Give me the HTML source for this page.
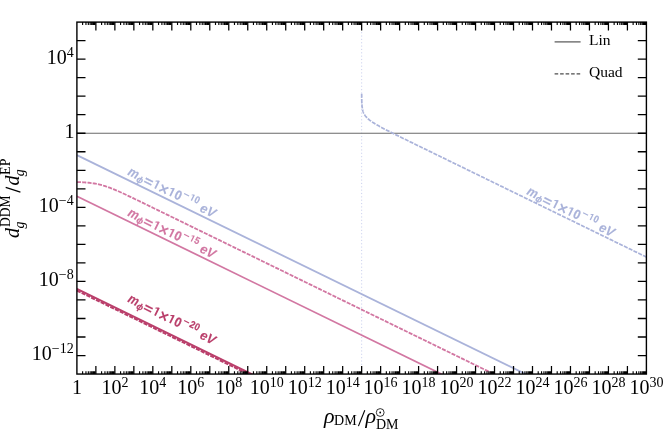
<!DOCTYPE html>
<html><head><meta charset="utf-8"><title>plot</title>
<style>html,body{margin:0;padding:0;background:#fff;}svg{display:block;will-change:transform;}text{font-family:"Liberation Serif",serif;fill:#000;}.s{font-family:"Liberation Sans",sans-serif;font-weight:bold;font-style:italic;}</style></head><body>
<svg width="664" height="431" viewBox="0 0 664 431">
<rect width="664" height="431" fill="#fff"/>
<defs><clipPath id="c"><rect x="76.9" y="22.1" width="569.5" height="351.95"/></clipPath></defs>
<line x1="361.65" y1="22.1" x2="361.65" y2="374.05" stroke="#bcc4ea" stroke-width="0.8" stroke-dasharray="1.1 2.25"/>
<line x1="76.9" y1="133.24" x2="646.4" y2="133.24" stroke="#6a6a6a" stroke-width="1.2"/>
<g clip-path="url(#c)" fill="none">
<line x1="76.90" y1="155.16" x2="646.40" y2="433.01" stroke="#aab3da" stroke-width="1.8"/>
<path d="M76.90 182.06 L77.99 182.09 L79.08 182.13 L80.17 182.17 L81.27 182.22 L82.36 182.27 L83.45 182.33 L84.54 182.40 L85.63 182.48 L86.72 182.56 L87.82 182.66 L88.91 182.77 L90.00 182.89 L91.09 183.02 L92.18 183.16 L93.27 183.32 L94.36 183.50 L95.46 183.69 L96.55 183.89 L97.64 184.12 L98.73 184.36 L99.82 184.61 L100.91 184.89 L102.01 185.18 L103.10 185.50 L104.19 185.82 L105.28 186.17 L106.37 186.53 L107.46 186.90 L108.55 187.29 L109.65 187.70 L110.74 188.11 L111.83 188.54 L112.92 188.98 L114.01 189.42 L115.10 189.88 L116.20 190.34 L117.29 190.82 L118.38 191.30 L119.47 191.78 L120.56 192.27 L121.65 192.77 L122.74 193.27 L123.84 193.77 L124.93 194.28 L126.02 194.79 L127.11 195.30 L128.20 195.81 L129.29 196.33 L130.39 196.85 L131.48 197.37 L132.57 197.89 L133.66 198.42 L134.75 198.94 L135.84 199.47 L136.93 199.99 L138.03 200.52 L139.12 201.05 L140.21 201.58 L141.30 202.11 L142.39 202.63 L143.48 203.16 L144.58 203.69 L145.67 204.23 L146.76 204.76 L147.85 205.29 L148.94 205.82 L150.03 206.35 L151.12 206.88 L152.22 207.41 L153.31 207.94 L154.40 208.48 L155.49 209.01 L156.58 209.54 L157.67 210.07 L158.77 210.60 L159.86 211.14 L160.95 211.67 L162.04 212.20 L163.13 212.73 L164.22 213.26 L165.31 213.80 L166.41 214.33 L167.50 214.86 L168.59 215.39 L169.68 215.93 L170.77 216.46 L171.86 216.99 L172.96 217.52 L174.05 218.06 L175.14 218.59 L176.23 219.12 L177.32 219.65 L178.41 220.19 L179.50 220.72 L180.60 221.25 L181.69 221.78 L182.78 222.32 L183.87 222.85 L184.96 223.38 L186.05 223.91 L187.15 224.45 L188.24 224.98 L189.33 225.51 L190.42 226.04 L191.51 226.58 L192.60 227.11 L193.69 227.64 L194.79 228.17 L195.88 228.71 L196.97 229.24 L198.06 229.77 L199.15 230.31 L200.24 230.84 L201.34 231.37 L202.43 231.90 L203.52 232.44 L204.61 232.97 L205.70 233.50 L206.79 234.03 L207.89 234.57 L208.98 235.10 L210.07 235.63 L211.16 236.16 L212.25 236.70 L213.34 237.23 L214.43 237.76 L215.53 238.29 L216.62 238.83 L217.71 239.36 L218.80 239.89 L219.89 240.42 L220.98 240.96 L222.08 241.49 L223.17 242.02 L224.26 242.55 L225.35 243.09 L226.44 243.62 L227.53 244.15 L228.62 244.68 L229.72 245.22 L230.81 245.75 L231.90 246.28 L232.99 246.81 L234.08 247.35 L235.17 247.88 L236.27 248.41 L237.36 248.94 L238.45 249.48 L239.54 250.01 L240.63 250.54 L241.72 251.07 L242.81 251.61 L243.91 252.14 L245.00 252.67 L246.09 253.21 L247.18 253.74 L248.27 254.27 L249.36 254.80 L250.46 255.34 L251.55 255.87 L252.64 256.40 L253.73 256.93 L254.82 257.47 L255.91 258.00 L257.00 258.53 L258.10 259.06 L259.19 259.60 L260.28 260.13 L261.37 260.66 L262.46 261.19 L263.55 261.73 L264.65 262.26 L265.74 262.79 L266.83 263.32 L267.92 263.86 L269.01 264.39 L270.10 264.92 L271.19 265.45 L272.29 265.99 L273.38 266.52 L274.47 267.05 L275.56 267.58 L276.65 268.12 L277.74 268.65 L278.84 269.18 L279.93 269.71 L281.02 270.25 L282.11 270.78 L283.20 271.31 L284.29 271.84 L285.38 272.38 L286.48 272.91 L287.57 273.44 L288.66 273.97 L289.75 274.51 L290.84 275.04 L291.93 275.57 L293.03 276.10 L294.12 276.64 L295.21 277.17 L296.30 277.70 L297.39 278.24 L298.48 278.77 L299.57 279.30 L300.67 279.83 L301.76 280.37 L302.85 280.90 L303.94 281.43 L305.03 281.96 L306.12 282.50 L307.22 283.03 L308.31 283.56 L309.40 284.09 L310.49 284.63 L311.58 285.16 L312.67 285.69 L313.76 286.22 L314.86 286.76 L315.95 287.29 L317.04 287.82 L318.13 288.35 L319.22 288.89 L320.31 289.42 L321.41 289.95 L322.50 290.48 L323.59 291.02 L324.68 291.55 L325.77 292.08 L326.86 292.61 L327.95 293.15 L329.05 293.68 L330.14 294.21 L331.23 294.74 L332.32 295.28 L333.41 295.81 L334.50 296.34 L335.60 296.87 L336.69 297.41 L337.78 297.94 L338.87 298.47 L339.96 299.00 L341.05 299.54 L342.14 300.07 L343.24 300.60 L344.33 301.14 L345.42 301.67 L346.51 302.20 L347.60 302.73 L348.69 303.27 L349.79 303.80 L350.88 304.33 L351.97 304.86 L353.06 305.40 L354.15 305.93 L355.24 306.46 L356.33 306.99 L357.43 307.53 L358.52 308.06 L359.61 308.59 L360.70 309.12 L361.79 309.66 L362.88 310.19 L363.98 310.72 L365.07 311.25 L366.16 311.79 L367.25 312.32 L368.34 312.85 L369.43 313.38 L370.52 313.92 L371.62 314.45 L372.71 314.98 L373.80 315.51 L374.89 316.05 L375.98 316.58 L377.07 317.11 L378.17 317.64 L379.26 318.18 L380.35 318.71 L381.44 319.24 L382.53 319.77 L383.62 320.31 L384.71 320.84 L385.81 321.37 L386.90 321.90 L387.99 322.44 L389.08 322.97 L390.17 323.50 L391.26 324.03 L392.36 324.57 L393.45 325.10 L394.54 325.63 L395.63 326.17 L396.72 326.70 L397.81 327.23 L398.90 327.76 L400.00 328.30 L401.09 328.83 L402.18 329.36 L403.27 329.89 L404.36 330.43 L405.45 330.96 L406.55 331.49 L407.64 332.02 L408.73 332.56 L409.82 333.09 L410.91 333.62 L412.00 334.15 L413.09 334.69 L414.19 335.22 L415.28 335.75 L416.37 336.28 L417.46 336.82 L418.55 337.35 L419.64 337.88 L420.74 338.41 L421.83 338.95 L422.92 339.48 L424.01 340.01 L425.10 340.54 L426.19 341.08 L427.28 341.61 L428.38 342.14 L429.47 342.67 L430.56 343.21 L431.65 343.74 L432.74 344.27 L433.83 344.80 L434.93 345.34 L436.02 345.87 L437.11 346.40 L438.20 346.93 L439.29 347.47 L440.38 348.00 L441.47 348.53 L442.57 349.07 L443.66 349.60 L444.75 350.13 L445.84 350.66 L446.93 351.20 L448.02 351.73 L449.12 352.26 L450.21 352.79 L451.30 353.33 L452.39 353.86 L453.48 354.39 L454.57 354.92 L455.66 355.46 L456.76 355.99 L457.85 356.52 L458.94 357.05 L460.03 357.59 L461.12 358.12 L462.21 358.65 L463.31 359.18 L464.40 359.72 L465.49 360.25 L466.58 360.78 L467.67 361.31 L468.76 361.85 L469.86 362.38 L470.95 362.91 L472.04 363.44 L473.13 363.98 L474.22 364.51 L475.31 365.04 L476.40 365.57 L477.50 366.11 L478.59 366.64 L479.68 367.17 L480.77 367.70 L481.86 368.24 L482.95 368.77 L484.05 369.30 L485.14 369.83 L486.23 370.37 L487.32 370.90 L488.41 371.43 L489.50 371.96 L490.59 372.50 L491.69 373.03 L492.78 373.56 L493.87 374.10 L494.96 374.63 L496.05 375.16 L497.14 375.69 L498.24 376.23 L499.33 376.76 L500.42 377.29 L501.51 377.82 L502.60 378.36 L503.69 378.89 L504.78 379.42 L505.88 379.95 L506.97 380.49 L508.06 381.02 L509.15 381.55 L510.24 382.08 L511.33 382.62 L512.43 383.15 L513.52 383.68" stroke="#d277a2" stroke-width="1.8" stroke-dasharray="4.1 1.2"/>
<line x1="76.90" y1="196.22" x2="646.40" y2="474.08" stroke="#d277a2" stroke-width="1.75"/>
<line x1="76.90" y1="290.51" x2="304.70" y2="401.65" stroke="#ba3f6b" stroke-width="2.0" stroke-dasharray="4.1 1.2"/>
<line x1="76.90" y1="288.84" x2="304.70" y2="399.98" stroke="#ba3f6b" stroke-width="2.0"/>
<path d="M361.67 93.79 L361.67 94.16 L361.67 94.53 L361.68 94.90 L361.68 95.27 L361.68 95.64 L361.68 96.01 L361.69 96.38 L361.69 96.75 L361.69 97.12 L361.70 97.49 L361.70 97.86 L361.71 98.23 L361.71 98.60 L361.72 98.97 L361.73 99.34 L361.73 99.71 L361.74 100.08 L361.75 100.46 L361.76 100.83 L361.77 101.20 L361.78 101.57 L361.80 101.94 L361.81 102.31 L361.82 102.68 L361.84 103.05 L361.86 103.42 L361.88 103.79 L361.90 104.16 L361.92 104.53 L361.95 104.90 L361.98 105.27 L362.01 105.64 L362.04 106.01 L362.08 106.38 L362.12 106.75 L362.17 107.12 L362.21 107.49 L362.27 107.86 L362.32 108.24 L362.39 108.61 L362.45 108.98 L362.53 109.35 L362.61 109.72 L362.69 110.09 L362.79 110.46 L362.89 110.83 L363.00 111.20 L363.12 111.57 L363.25 111.94 L363.39 112.31 L363.54 112.68 L363.70 113.05 L363.87 113.42 L364.06 113.79 L364.25 114.16 L364.47 114.53 L364.69 114.90 L364.94 115.27 L365.19 115.64 L365.47 116.02 L365.76 116.39 L366.71 117.47 L367.66 118.42 L368.60 119.28 L369.55 120.06 L370.50 120.78 L371.45 121.47 L372.40 122.12 L373.35 122.74 L374.30 123.34 L375.25 123.92 L376.20 124.49 L377.15 125.04 L378.10 125.58 L379.05 126.11 L379.99 126.64 L380.94 127.15 L381.89 127.66 L382.84 128.16 L383.79 128.66 L384.74 129.16 L385.69 129.65 L386.64 130.14 L387.59 130.62 L388.54 131.11 L389.49 131.59 L390.44 132.06 L391.38 132.54 L392.33 133.02 L393.28 133.49 L394.23 133.96 L395.18 134.44 L396.13 134.91 L397.08 135.38 L398.03 135.85 L398.98 136.31 L399.93 136.78 L400.88 137.25 L401.83 137.72 L402.77 138.18 L403.72 138.65 L404.67 139.11 L405.62 139.58 L406.57 140.04 L407.52 140.51 L408.47 140.97 L409.42 141.44 L410.37 141.90 L411.32 142.37 L412.27 142.83 L413.22 143.30 L414.16 143.76 L415.11 144.22 L416.06 144.69 L417.01 145.15 L417.96 145.61 L418.91 146.08 L419.86 146.54 L420.81 147.01 L421.76 147.47 L422.71 147.93 L423.66 148.40 L424.61 148.86 L425.55 149.32 L426.50 149.79 L427.45 150.25 L428.40 150.71 L429.35 151.18 L430.30 151.64 L431.25 152.10 L432.20 152.56 L433.15 153.03 L434.10 153.49 L435.05 153.95 L436.00 154.42 L436.94 154.88 L437.89 155.34 L438.84 155.81 L439.79 156.27 L440.74 156.73 L441.69 157.20 L442.64 157.66 L443.59 158.12 L444.54 158.59 L445.49 159.05 L446.44 159.51 L447.39 159.97 L448.33 160.44 L449.28 160.90 L450.23 161.36 L451.18 161.83 L452.13 162.29 L453.08 162.75 L454.03 163.22 L454.98 163.68 L455.93 164.14 L456.88 164.61 L457.83 165.07 L458.78 165.53 L459.72 166.00 L460.67 166.46 L461.62 166.92 L462.57 167.38 L463.52 167.85 L464.47 168.31 L465.42 168.77 L466.37 169.24 L467.32 169.70 L468.27 170.16 L469.22 170.63 L470.17 171.09 L471.11 171.55 L472.06 172.02 L473.01 172.48 L473.96 172.94 L474.91 173.40 L475.86 173.87 L476.81 174.33 L477.76 174.79 L478.71 175.26 L479.66 175.72 L480.61 176.18 L481.56 176.65 L482.50 177.11 L483.45 177.57 L484.40 178.04 L485.35 178.50 L486.30 178.96 L487.25 179.42 L488.20 179.89 L489.15 180.35 L490.10 180.81 L491.05 181.28 L492.00 181.74 L492.95 182.20 L493.89 182.67 L494.84 183.13 L495.79 183.59 L496.74 184.06 L497.69 184.52 L498.64 184.98 L499.59 185.44 L500.54 185.91 L501.49 186.37 L502.44 186.83 L503.39 187.30 L504.34 187.76 L505.28 188.22 L506.23 188.69 L507.18 189.15 L508.13 189.61 L509.08 190.08 L510.03 190.54 L510.98 191.00 L511.93 191.47 L512.88 191.93 L513.83 192.39 L514.78 192.85 L515.73 193.32 L516.67 193.78 L517.62 194.24 L518.57 194.71 L519.52 195.17 L520.47 195.63 L521.42 196.10 L522.37 196.56 L523.32 197.02 L524.27 197.49 L525.22 197.95 L526.17 198.41 L527.12 198.87 L528.06 199.34 L529.01 199.80 L529.96 200.26 L530.91 200.73 L531.86 201.19 L532.81 201.65 L533.76 202.12 L534.71 202.58 L535.66 203.04 L536.61 203.51 L537.56 203.97 L538.51 204.43 L539.45 204.89 L540.40 205.36 L541.35 205.82 L542.30 206.28 L543.25 206.75 L544.20 207.21 L545.15 207.67 L546.10 208.14 L547.05 208.60 L548.00 209.06 L548.95 209.53 L549.90 209.99 L550.84 210.45 L551.79 210.92 L552.74 211.38 L553.69 211.84 L554.64 212.30 L555.59 212.77 L556.54 213.23 L557.49 213.69 L558.44 214.16 L559.39 214.62 L560.34 215.08 L561.29 215.55 L562.23 216.01 L563.18 216.47 L564.13 216.94 L565.08 217.40 L566.03 217.86 L566.98 218.32 L567.93 218.79 L568.88 219.25 L569.83 219.71 L570.78 220.18 L571.73 220.64 L572.68 221.10 L573.62 221.57 L574.57 222.03 L575.52 222.49 L576.47 222.96 L577.42 223.42 L578.37 223.88 L579.32 224.34 L580.27 224.81 L581.22 225.27 L582.17 225.73 L583.12 226.20 L584.07 226.66 L585.01 227.12 L585.96 227.59 L586.91 228.05 L587.86 228.51 L588.81 228.98 L589.76 229.44 L590.71 229.90 L591.66 230.36 L592.61 230.83 L593.56 231.29 L594.51 231.75 L595.46 232.22 L596.40 232.68 L597.35 233.14 L598.30 233.61 L599.25 234.07 L600.20 234.53 L601.15 235.00 L602.10 235.46 L603.05 235.92 L604.00 236.39 L604.95 236.85 L605.90 237.31 L606.85 237.77 L607.79 238.24 L608.74 238.70 L609.69 239.16 L610.64 239.63 L611.59 240.09 L612.54 240.55 L613.49 241.02 L614.44 241.48 L615.39 241.94 L616.34 242.41 L617.29 242.87 L618.24 243.33 L619.18 243.79 L620.13 244.26 L621.08 244.72 L622.03 245.18 L622.98 245.65 L623.93 246.11 L624.88 246.57 L625.83 247.04 L626.78 247.50 L627.73 247.96 L628.68 248.43 L629.63 248.89 L630.57 249.35 L631.52 249.81 L632.47 250.28 L633.42 250.74 L634.37 251.20 L635.32 251.67 L636.27 252.13 L637.22 252.59 L638.17 253.06 L639.12 253.52 L640.07 253.98 L641.02 254.45 L641.96 254.91 L642.91 255.37 L643.86 255.83 L644.81 256.30 L645.76 256.76 L646.71 257.22" stroke="#aab3da" stroke-width="1.7" stroke-dasharray="4.1 1.2"/>
</g>
<g transform="translate(127.00,174.60) rotate(26.57)" font-size="13.3">
<text class="s" transform="translate(0.00,0) scale(0.9,1)" style="fill:#aab3da;stroke:#aab3da;stroke-width:0.12">m</text>
<text class="s" transform="translate(10.80,2.0) scale(0.9,1)" style="fill:#aab3da;stroke:#aab3da;stroke-width:0.15" font-size="9.4" font-weight="normal">ϕ</text>
<text class="s" transform="translate(17.80,1.1) scale(1.18,1)" style="font-style:normal;fill:#aab3da;stroke:#aab3da;stroke-width:0.1">=</text>
<path d="M32.28 0.00 L32.28 -8.90 L30.98 -8.90 L28.38 -7.60 L28.38 -6.40 L30.48 -7.15 L30.48 0.00 Z" fill="#aab3da"/>
<text class="s" transform="translate(34.64,2.0) scale(1.0,1)" style="font-style:normal;fill:#aab3da;stroke:#aab3da;stroke-width:0" font-size="16.5" font-weight="normal">×</text>
<path d="M49.06 0.00 L49.06 -8.90 L47.76 -8.90 L45.16 -7.60 L45.16 -6.40 L47.26 -7.15 L47.26 0.00 Z" fill="#aab3da"/>
<text class="s" transform="translate(51.68,0) scale(0.9,1)" style="font-style:normal;fill:#aab3da;stroke:#aab3da;stroke-width:0.22">0</text>
<text class="s" transform="translate(59.14,-5.5) scale(1.1,1)" style="font-style:normal;fill:#aab3da;stroke:#aab3da;stroke-width:0" font-size="10.0">−</text>
<path d="M69.84 -5.50 L69.84 -12.18 L68.87 -12.18 L66.92 -11.20 L66.92 -10.30 L68.50 -10.86 L68.50 -5.50 Z" fill="#aab3da"/>
<text class="s" transform="translate(71.63,-5.5) scale(0.9,1)" style="font-style:normal;fill:#aab3da;stroke:#aab3da;stroke-width:0.2" font-size="10.0">0</text>
<text class="s" transform="translate(80.70,0.3) scale(0.96,1)" style="fill:#aab3da;stroke:#aab3da;stroke-width:0.1">eV</text>
</g>
<g transform="translate(126.90,215.50) rotate(26.57)" font-size="13.3">
<text class="s" transform="translate(0.00,0) scale(0.9,1)" style="fill:#d277a2;stroke:#d277a2;stroke-width:0.12">m</text>
<text class="s" transform="translate(10.80,2.0) scale(0.9,1)" style="fill:#d277a2;stroke:#d277a2;stroke-width:0.15" font-size="9.4" font-weight="normal">ϕ</text>
<text class="s" transform="translate(17.80,1.1) scale(1.18,1)" style="font-style:normal;fill:#d277a2;stroke:#d277a2;stroke-width:0.1">=</text>
<path d="M32.28 0.00 L32.28 -8.90 L30.98 -8.90 L28.38 -7.60 L28.38 -6.40 L30.48 -7.15 L30.48 0.00 Z" fill="#d277a2"/>
<text class="s" transform="translate(34.64,2.0) scale(1.0,1)" style="font-style:normal;fill:#d277a2;stroke:#d277a2;stroke-width:0" font-size="16.5" font-weight="normal">×</text>
<path d="M49.06 0.00 L49.06 -8.90 L47.76 -8.90 L45.16 -7.60 L45.16 -6.40 L47.26 -7.15 L47.26 0.00 Z" fill="#d277a2"/>
<text class="s" transform="translate(51.68,0) scale(0.9,1)" style="font-style:normal;fill:#d277a2;stroke:#d277a2;stroke-width:0.22">0</text>
<text class="s" transform="translate(59.14,-5.5) scale(1.1,1)" style="font-style:normal;fill:#d277a2;stroke:#d277a2;stroke-width:0" font-size="10.0">−</text>
<path d="M69.84 -5.50 L69.84 -12.18 L68.87 -12.18 L66.92 -11.20 L66.92 -10.30 L68.50 -10.86 L68.50 -5.50 Z" fill="#d277a2"/>
<text class="s" transform="translate(71.63,-5.5) scale(0.9,1)" style="font-style:normal;fill:#d277a2;stroke:#d277a2;stroke-width:0.2" font-size="10.0">5</text>
<text class="s" transform="translate(80.70,0.3) scale(0.96,1)" style="fill:#d277a2;stroke:#d277a2;stroke-width:0.1">eV</text>
</g>
<g transform="translate(126.90,301.60) rotate(26.57)" font-size="13.3">
<text class="s" transform="translate(0.00,0) scale(0.9,1)" style="fill:#ba3f6b;stroke:#ba3f6b;stroke-width:0.12">m</text>
<text class="s" transform="translate(10.80,2.0) scale(0.9,1)" style="fill:#ba3f6b;stroke:#ba3f6b;stroke-width:0.15" font-size="9.4" font-weight="normal">ϕ</text>
<text class="s" transform="translate(17.80,1.1) scale(1.18,1)" style="font-style:normal;fill:#ba3f6b;stroke:#ba3f6b;stroke-width:0.1">=</text>
<path d="M32.28 0.00 L32.28 -8.90 L30.98 -8.90 L28.38 -7.60 L28.38 -6.40 L30.48 -7.15 L30.48 0.00 Z" fill="#ba3f6b"/>
<text class="s" transform="translate(34.64,2.0) scale(1.0,1)" style="font-style:normal;fill:#ba3f6b;stroke:#ba3f6b;stroke-width:0" font-size="16.5" font-weight="normal">×</text>
<path d="M49.06 0.00 L49.06 -8.90 L47.76 -8.90 L45.16 -7.60 L45.16 -6.40 L47.26 -7.15 L47.26 0.00 Z" fill="#ba3f6b"/>
<text class="s" transform="translate(51.68,0) scale(0.9,1)" style="font-style:normal;fill:#ba3f6b;stroke:#ba3f6b;stroke-width:0.22">0</text>
<text class="s" transform="translate(59.14,-5.5) scale(1.1,1)" style="font-style:normal;fill:#ba3f6b;stroke:#ba3f6b;stroke-width:0" font-size="10.0">−</text>
<text class="s" transform="translate(66.42,-5.5) scale(0.9,1)" style="font-style:normal;fill:#ba3f6b;stroke:#ba3f6b;stroke-width:0.2" font-size="10.0">2</text>
<text class="s" transform="translate(71.63,-5.5) scale(0.9,1)" style="font-style:normal;fill:#ba3f6b;stroke:#ba3f6b;stroke-width:0.2" font-size="10.0">0</text>
<text class="s" transform="translate(80.70,0.3) scale(0.96,1)" style="fill:#ba3f6b;stroke:#ba3f6b;stroke-width:0.1">eV</text>
</g>
<g transform="translate(525.90,194.00) rotate(26.57)" font-size="13.3">
<text class="s" transform="translate(0.00,0) scale(0.9,1)" style="fill:#aab3da;stroke:#aab3da;stroke-width:0.12">m</text>
<text class="s" transform="translate(10.80,2.0) scale(0.9,1)" style="fill:#aab3da;stroke:#aab3da;stroke-width:0.15" font-size="9.4" font-weight="normal">ϕ</text>
<text class="s" transform="translate(17.80,1.1) scale(1.18,1)" style="font-style:normal;fill:#aab3da;stroke:#aab3da;stroke-width:0.1">=</text>
<path d="M32.28 0.00 L32.28 -8.90 L30.98 -8.90 L28.38 -7.60 L28.38 -6.40 L30.48 -7.15 L30.48 0.00 Z" fill="#aab3da"/>
<text class="s" transform="translate(34.64,2.0) scale(1.0,1)" style="font-style:normal;fill:#aab3da;stroke:#aab3da;stroke-width:0" font-size="16.5" font-weight="normal">×</text>
<path d="M49.06 0.00 L49.06 -8.90 L47.76 -8.90 L45.16 -7.60 L45.16 -6.40 L47.26 -7.15 L47.26 0.00 Z" fill="#aab3da"/>
<text class="s" transform="translate(51.68,0) scale(0.9,1)" style="font-style:normal;fill:#aab3da;stroke:#aab3da;stroke-width:0.22">0</text>
<text class="s" transform="translate(59.14,-5.5) scale(1.1,1)" style="font-style:normal;fill:#aab3da;stroke:#aab3da;stroke-width:0" font-size="10.0">−</text>
<path d="M69.84 -5.50 L69.84 -12.18 L68.87 -12.18 L66.92 -11.20 L66.92 -10.30 L68.50 -10.86 L68.50 -5.50 Z" fill="#aab3da"/>
<text class="s" transform="translate(71.63,-5.5) scale(0.9,1)" style="font-style:normal;fill:#aab3da;stroke:#aab3da;stroke-width:0.2" font-size="10.0">0</text>
<text class="s" transform="translate(80.70,0.3) scale(0.96,1)" style="fill:#aab3da;stroke:#aab3da;stroke-width:0.1">eV</text>
</g>
<rect x="76.9" y="22.1" width="569.50" height="351.95" fill="none" stroke="#000" stroke-width="1.4"/>
<path d="M95.88 374.05 v-8 M95.88 22.1 v8.5 M114.87 374.05 v-8 M114.87 22.1 v8.5 M133.85 374.05 v-8 M133.85 22.1 v8.5 M152.83 374.05 v-8 M152.83 22.1 v8.5 M171.82 374.05 v-8 M171.82 22.1 v8.5 M190.80 374.05 v-8 M190.80 22.1 v8.5 M209.78 374.05 v-8 M209.78 22.1 v8.5 M228.77 374.05 v-8 M228.77 22.1 v8.5 M247.75 374.05 v-8 M247.75 22.1 v8.5 M266.73 374.05 v-8 M266.73 22.1 v8.5 M285.72 374.05 v-8 M285.72 22.1 v8.5 M304.70 374.05 v-8 M304.70 22.1 v8.5 M323.68 374.05 v-8 M323.68 22.1 v8.5 M342.67 374.05 v-8 M342.67 22.1 v8.5 M361.65 374.05 v-8 M361.65 22.1 v8.5 M380.63 374.05 v-8 M380.63 22.1 v8.5 M399.62 374.05 v-8 M399.62 22.1 v8.5 M418.60 374.05 v-8 M418.60 22.1 v8.5 M437.58 374.05 v-8 M437.58 22.1 v8.5 M456.57 374.05 v-8 M456.57 22.1 v8.5 M475.55 374.05 v-8 M475.55 22.1 v8.5 M494.53 374.05 v-8 M494.53 22.1 v8.5 M513.52 374.05 v-8 M513.52 22.1 v8.5 M532.50 374.05 v-8 M532.50 22.1 v8.5 M551.48 374.05 v-8 M551.48 22.1 v8.5 M570.47 374.05 v-8 M570.47 22.1 v8.5 M589.45 374.05 v-8 M589.45 22.1 v8.5 M608.43 374.05 v-8 M608.43 22.1 v8.5 M627.42 374.05 v-8 M627.42 22.1 v8.5" stroke="#000" stroke-width="1.25" fill="none"/>
<path d="M82.61 374.05 v-2.7 M82.61 22.1 v2.8 M85.96 374.05 v-2.7 M85.96 22.1 v2.8 M88.33 374.05 v-2.7 M88.33 22.1 v2.8 M90.17 374.05 v-2.7 M90.17 22.1 v2.8 M91.67 374.05 v-2.7 M91.67 22.1 v2.8 M92.94 374.05 v-2.7 M92.94 22.1 v2.8 M94.04 374.05 v-2.7 M94.04 22.1 v2.8 M95.01 374.05 v-2.7 M95.01 22.1 v2.8 M101.60 374.05 v-2.7 M101.60 22.1 v2.8 M104.94 374.05 v-2.7 M104.94 22.1 v2.8 M107.31 374.05 v-2.7 M107.31 22.1 v2.8 M109.15 374.05 v-2.7 M109.15 22.1 v2.8 M110.66 374.05 v-2.7 M110.66 22.1 v2.8 M111.93 374.05 v-2.7 M111.93 22.1 v2.8 M113.03 374.05 v-2.7 M113.03 22.1 v2.8 M114.00 374.05 v-2.7 M114.00 22.1 v2.8 M120.58 374.05 v-2.7 M120.58 22.1 v2.8 M123.92 374.05 v-2.7 M123.92 22.1 v2.8 M126.30 374.05 v-2.7 M126.30 22.1 v2.8 M128.14 374.05 v-2.7 M128.14 22.1 v2.8 M129.64 374.05 v-2.7 M129.64 22.1 v2.8 M130.91 374.05 v-2.7 M130.91 22.1 v2.8 M132.01 374.05 v-2.7 M132.01 22.1 v2.8 M132.98 374.05 v-2.7 M132.98 22.1 v2.8 M139.56 374.05 v-2.7 M139.56 22.1 v2.8 M142.91 374.05 v-2.7 M142.91 22.1 v2.8 M145.28 374.05 v-2.7 M145.28 22.1 v2.8 M147.12 374.05 v-2.7 M147.12 22.1 v2.8 M148.62 374.05 v-2.7 M148.62 22.1 v2.8 M149.89 374.05 v-2.7 M149.89 22.1 v2.8 M150.99 374.05 v-2.7 M150.99 22.1 v2.8 M151.96 374.05 v-2.7 M151.96 22.1 v2.8 M158.55 374.05 v-2.7 M158.55 22.1 v2.8 M161.89 374.05 v-2.7 M161.89 22.1 v2.8 M164.26 374.05 v-2.7 M164.26 22.1 v2.8 M166.10 374.05 v-2.7 M166.10 22.1 v2.8 M167.61 374.05 v-2.7 M167.61 22.1 v2.8 M168.88 374.05 v-2.7 M168.88 22.1 v2.8 M169.98 374.05 v-2.7 M169.98 22.1 v2.8 M170.95 374.05 v-2.7 M170.95 22.1 v2.8 M177.53 374.05 v-2.7 M177.53 22.1 v2.8 M180.87 374.05 v-2.7 M180.87 22.1 v2.8 M183.25 374.05 v-2.7 M183.25 22.1 v2.8 M185.09 374.05 v-2.7 M185.09 22.1 v2.8 M186.59 374.05 v-2.7 M186.59 22.1 v2.8 M187.86 374.05 v-2.7 M187.86 22.1 v2.8 M188.96 374.05 v-2.7 M188.96 22.1 v2.8 M189.93 374.05 v-2.7 M189.93 22.1 v2.8 M196.51 374.05 v-2.7 M196.51 22.1 v2.8 M199.86 374.05 v-2.7 M199.86 22.1 v2.8 M202.23 374.05 v-2.7 M202.23 22.1 v2.8 M204.07 374.05 v-2.7 M204.07 22.1 v2.8 M205.57 374.05 v-2.7 M205.57 22.1 v2.8 M206.84 374.05 v-2.7 M206.84 22.1 v2.8 M207.94 374.05 v-2.7 M207.94 22.1 v2.8 M208.91 374.05 v-2.7 M208.91 22.1 v2.8 M215.50 374.05 v-2.7 M215.50 22.1 v2.8 M218.84 374.05 v-2.7 M218.84 22.1 v2.8 M221.21 374.05 v-2.7 M221.21 22.1 v2.8 M223.05 374.05 v-2.7 M223.05 22.1 v2.8 M224.56 374.05 v-2.7 M224.56 22.1 v2.8 M225.83 374.05 v-2.7 M225.83 22.1 v2.8 M226.93 374.05 v-2.7 M226.93 22.1 v2.8 M227.90 374.05 v-2.7 M227.90 22.1 v2.8 M234.48 374.05 v-2.7 M234.48 22.1 v2.8 M237.82 374.05 v-2.7 M237.82 22.1 v2.8 M240.20 374.05 v-2.7 M240.20 22.1 v2.8 M242.04 374.05 v-2.7 M242.04 22.1 v2.8 M243.54 374.05 v-2.7 M243.54 22.1 v2.8 M244.81 374.05 v-2.7 M244.81 22.1 v2.8 M245.91 374.05 v-2.7 M245.91 22.1 v2.8 M246.88 374.05 v-2.7 M246.88 22.1 v2.8 M253.46 374.05 v-2.7 M253.46 22.1 v2.8 M256.81 374.05 v-2.7 M256.81 22.1 v2.8 M259.18 374.05 v-2.7 M259.18 22.1 v2.8 M261.02 374.05 v-2.7 M261.02 22.1 v2.8 M262.52 374.05 v-2.7 M262.52 22.1 v2.8 M263.79 374.05 v-2.7 M263.79 22.1 v2.8 M264.89 374.05 v-2.7 M264.89 22.1 v2.8 M265.86 374.05 v-2.7 M265.86 22.1 v2.8 M272.45 374.05 v-2.7 M272.45 22.1 v2.8 M275.79 374.05 v-2.7 M275.79 22.1 v2.8 M278.16 374.05 v-2.7 M278.16 22.1 v2.8 M280.00 374.05 v-2.7 M280.00 22.1 v2.8 M281.51 374.05 v-2.7 M281.51 22.1 v2.8 M282.78 374.05 v-2.7 M282.78 22.1 v2.8 M283.88 374.05 v-2.7 M283.88 22.1 v2.8 M284.85 374.05 v-2.7 M284.85 22.1 v2.8 M291.43 374.05 v-2.7 M291.43 22.1 v2.8 M294.77 374.05 v-2.7 M294.77 22.1 v2.8 M297.15 374.05 v-2.7 M297.15 22.1 v2.8 M298.99 374.05 v-2.7 M298.99 22.1 v2.8 M300.49 374.05 v-2.7 M300.49 22.1 v2.8 M301.76 374.05 v-2.7 M301.76 22.1 v2.8 M302.86 374.05 v-2.7 M302.86 22.1 v2.8 M303.83 374.05 v-2.7 M303.83 22.1 v2.8 M310.41 374.05 v-2.7 M310.41 22.1 v2.8 M313.76 374.05 v-2.7 M313.76 22.1 v2.8 M316.13 374.05 v-2.7 M316.13 22.1 v2.8 M317.97 374.05 v-2.7 M317.97 22.1 v2.8 M319.47 374.05 v-2.7 M319.47 22.1 v2.8 M320.74 374.05 v-2.7 M320.74 22.1 v2.8 M321.84 374.05 v-2.7 M321.84 22.1 v2.8 M322.81 374.05 v-2.7 M322.81 22.1 v2.8 M329.40 374.05 v-2.7 M329.40 22.1 v2.8 M332.74 374.05 v-2.7 M332.74 22.1 v2.8 M335.11 374.05 v-2.7 M335.11 22.1 v2.8 M336.95 374.05 v-2.7 M336.95 22.1 v2.8 M338.46 374.05 v-2.7 M338.46 22.1 v2.8 M339.73 374.05 v-2.7 M339.73 22.1 v2.8 M340.83 374.05 v-2.7 M340.83 22.1 v2.8 M341.80 374.05 v-2.7 M341.80 22.1 v2.8 M348.38 374.05 v-2.7 M348.38 22.1 v2.8 M351.72 374.05 v-2.7 M351.72 22.1 v2.8 M354.10 374.05 v-2.7 M354.10 22.1 v2.8 M355.94 374.05 v-2.7 M355.94 22.1 v2.8 M357.44 374.05 v-2.7 M357.44 22.1 v2.8 M358.71 374.05 v-2.7 M358.71 22.1 v2.8 M359.81 374.05 v-2.7 M359.81 22.1 v2.8 M360.78 374.05 v-2.7 M360.78 22.1 v2.8 M367.36 374.05 v-2.7 M367.36 22.1 v2.8 M370.71 374.05 v-2.7 M370.71 22.1 v2.8 M373.08 374.05 v-2.7 M373.08 22.1 v2.8 M374.92 374.05 v-2.7 M374.92 22.1 v2.8 M376.42 374.05 v-2.7 M376.42 22.1 v2.8 M377.69 374.05 v-2.7 M377.69 22.1 v2.8 M378.79 374.05 v-2.7 M378.79 22.1 v2.8 M379.76 374.05 v-2.7 M379.76 22.1 v2.8 M386.35 374.05 v-2.7 M386.35 22.1 v2.8 M389.69 374.05 v-2.7 M389.69 22.1 v2.8 M392.06 374.05 v-2.7 M392.06 22.1 v2.8 M393.90 374.05 v-2.7 M393.90 22.1 v2.8 M395.41 374.05 v-2.7 M395.41 22.1 v2.8 M396.68 374.05 v-2.7 M396.68 22.1 v2.8 M397.78 374.05 v-2.7 M397.78 22.1 v2.8 M398.75 374.05 v-2.7 M398.75 22.1 v2.8 M405.33 374.05 v-2.7 M405.33 22.1 v2.8 M408.67 374.05 v-2.7 M408.67 22.1 v2.8 M411.05 374.05 v-2.7 M411.05 22.1 v2.8 M412.89 374.05 v-2.7 M412.89 22.1 v2.8 M414.39 374.05 v-2.7 M414.39 22.1 v2.8 M415.66 374.05 v-2.7 M415.66 22.1 v2.8 M416.76 374.05 v-2.7 M416.76 22.1 v2.8 M417.73 374.05 v-2.7 M417.73 22.1 v2.8 M424.31 374.05 v-2.7 M424.31 22.1 v2.8 M427.66 374.05 v-2.7 M427.66 22.1 v2.8 M430.03 374.05 v-2.7 M430.03 22.1 v2.8 M431.87 374.05 v-2.7 M431.87 22.1 v2.8 M433.37 374.05 v-2.7 M433.37 22.1 v2.8 M434.64 374.05 v-2.7 M434.64 22.1 v2.8 M435.74 374.05 v-2.7 M435.74 22.1 v2.8 M436.71 374.05 v-2.7 M436.71 22.1 v2.8 M443.30 374.05 v-2.7 M443.30 22.1 v2.8 M446.64 374.05 v-2.7 M446.64 22.1 v2.8 M449.01 374.05 v-2.7 M449.01 22.1 v2.8 M450.85 374.05 v-2.7 M450.85 22.1 v2.8 M452.36 374.05 v-2.7 M452.36 22.1 v2.8 M453.63 374.05 v-2.7 M453.63 22.1 v2.8 M454.73 374.05 v-2.7 M454.73 22.1 v2.8 M455.70 374.05 v-2.7 M455.70 22.1 v2.8 M462.28 374.05 v-2.7 M462.28 22.1 v2.8 M465.62 374.05 v-2.7 M465.62 22.1 v2.8 M468.00 374.05 v-2.7 M468.00 22.1 v2.8 M469.84 374.05 v-2.7 M469.84 22.1 v2.8 M471.34 374.05 v-2.7 M471.34 22.1 v2.8 M472.61 374.05 v-2.7 M472.61 22.1 v2.8 M473.71 374.05 v-2.7 M473.71 22.1 v2.8 M474.68 374.05 v-2.7 M474.68 22.1 v2.8 M481.26 374.05 v-2.7 M481.26 22.1 v2.8 M484.61 374.05 v-2.7 M484.61 22.1 v2.8 M486.98 374.05 v-2.7 M486.98 22.1 v2.8 M488.82 374.05 v-2.7 M488.82 22.1 v2.8 M490.32 374.05 v-2.7 M490.32 22.1 v2.8 M491.59 374.05 v-2.7 M491.59 22.1 v2.8 M492.69 374.05 v-2.7 M492.69 22.1 v2.8 M493.66 374.05 v-2.7 M493.66 22.1 v2.8 M500.25 374.05 v-2.7 M500.25 22.1 v2.8 M503.59 374.05 v-2.7 M503.59 22.1 v2.8 M505.96 374.05 v-2.7 M505.96 22.1 v2.8 M507.80 374.05 v-2.7 M507.80 22.1 v2.8 M509.31 374.05 v-2.7 M509.31 22.1 v2.8 M510.58 374.05 v-2.7 M510.58 22.1 v2.8 M511.68 374.05 v-2.7 M511.68 22.1 v2.8 M512.65 374.05 v-2.7 M512.65 22.1 v2.8 M519.23 374.05 v-2.7 M519.23 22.1 v2.8 M522.57 374.05 v-2.7 M522.57 22.1 v2.8 M524.95 374.05 v-2.7 M524.95 22.1 v2.8 M526.79 374.05 v-2.7 M526.79 22.1 v2.8 M528.29 374.05 v-2.7 M528.29 22.1 v2.8 M529.56 374.05 v-2.7 M529.56 22.1 v2.8 M530.66 374.05 v-2.7 M530.66 22.1 v2.8 M531.63 374.05 v-2.7 M531.63 22.1 v2.8 M538.21 374.05 v-2.7 M538.21 22.1 v2.8 M541.56 374.05 v-2.7 M541.56 22.1 v2.8 M543.93 374.05 v-2.7 M543.93 22.1 v2.8 M545.77 374.05 v-2.7 M545.77 22.1 v2.8 M547.27 374.05 v-2.7 M547.27 22.1 v2.8 M548.54 374.05 v-2.7 M548.54 22.1 v2.8 M549.64 374.05 v-2.7 M549.64 22.1 v2.8 M550.61 374.05 v-2.7 M550.61 22.1 v2.8 M557.20 374.05 v-2.7 M557.20 22.1 v2.8 M560.54 374.05 v-2.7 M560.54 22.1 v2.8 M562.91 374.05 v-2.7 M562.91 22.1 v2.8 M564.75 374.05 v-2.7 M564.75 22.1 v2.8 M566.26 374.05 v-2.7 M566.26 22.1 v2.8 M567.53 374.05 v-2.7 M567.53 22.1 v2.8 M568.63 374.05 v-2.7 M568.63 22.1 v2.8 M569.60 374.05 v-2.7 M569.60 22.1 v2.8 M576.18 374.05 v-2.7 M576.18 22.1 v2.8 M579.52 374.05 v-2.7 M579.52 22.1 v2.8 M581.90 374.05 v-2.7 M581.90 22.1 v2.8 M583.74 374.05 v-2.7 M583.74 22.1 v2.8 M585.24 374.05 v-2.7 M585.24 22.1 v2.8 M586.51 374.05 v-2.7 M586.51 22.1 v2.8 M587.61 374.05 v-2.7 M587.61 22.1 v2.8 M588.58 374.05 v-2.7 M588.58 22.1 v2.8 M595.16 374.05 v-2.7 M595.16 22.1 v2.8 M598.51 374.05 v-2.7 M598.51 22.1 v2.8 M600.88 374.05 v-2.7 M600.88 22.1 v2.8 M602.72 374.05 v-2.7 M602.72 22.1 v2.8 M604.22 374.05 v-2.7 M604.22 22.1 v2.8 M605.49 374.05 v-2.7 M605.49 22.1 v2.8 M606.59 374.05 v-2.7 M606.59 22.1 v2.8 M607.56 374.05 v-2.7 M607.56 22.1 v2.8 M614.15 374.05 v-2.7 M614.15 22.1 v2.8 M617.49 374.05 v-2.7 M617.49 22.1 v2.8 M619.86 374.05 v-2.7 M619.86 22.1 v2.8 M621.70 374.05 v-2.7 M621.70 22.1 v2.8 M623.21 374.05 v-2.7 M623.21 22.1 v2.8 M624.48 374.05 v-2.7 M624.48 22.1 v2.8 M625.58 374.05 v-2.7 M625.58 22.1 v2.8 M626.55 374.05 v-2.7 M626.55 22.1 v2.8 M633.13 374.05 v-2.7 M633.13 22.1 v2.8 M636.47 374.05 v-2.7 M636.47 22.1 v2.8 M638.85 374.05 v-2.7 M638.85 22.1 v2.8 M640.69 374.05 v-2.7 M640.69 22.1 v2.8 M642.19 374.05 v-2.7 M642.19 22.1 v2.8 M643.46 374.05 v-2.7 M643.46 22.1 v2.8 M644.56 374.05 v-2.7 M644.56 22.1 v2.8 M645.53 374.05 v-2.7 M645.53 22.1 v2.8" stroke="#000" stroke-width="1.15" fill="none"/>
<path d="M76.9 355.53 h8.6 M646.4 355.53 h-8.6 M76.9 337.00 h8.6 M646.4 337.00 h-8.6 M76.9 318.48 h8.6 M646.4 318.48 h-8.6 M76.9 299.96 h8.6 M646.4 299.96 h-8.6 M76.9 281.43 h8.6 M646.4 281.43 h-8.6 M76.9 262.91 h8.6 M646.4 262.91 h-8.6 M76.9 244.38 h8.6 M646.4 244.38 h-8.6 M76.9 225.86 h8.6 M646.4 225.86 h-8.6 M76.9 207.34 h8.6 M646.4 207.34 h-8.6 M76.9 188.81 h8.6 M646.4 188.81 h-8.6 M76.9 170.29 h8.6 M646.4 170.29 h-8.6 M76.9 151.77 h8.6 M646.4 151.77 h-8.6 M76.9 133.24 h8.6 M646.4 133.24 h-8.6 M76.9 114.72 h8.6 M646.4 114.72 h-8.6 M76.9 96.19 h8.6 M646.4 96.19 h-8.6 M76.9 77.67 h8.6 M646.4 77.67 h-8.6 M76.9 59.15 h8.6 M646.4 59.15 h-8.6 M76.9 40.62 h8.6 M646.4 40.62 h-8.6" stroke="#000" stroke-width="1.3" fill="none"/>
<text x="76.9" y="394" font-size="20" text-anchor="middle">1</text>
<text x="114.9" y="394" font-size="20" text-anchor="middle">10<tspan font-size="14" dy="-7">2</tspan></text>
<text x="152.8" y="394" font-size="20" text-anchor="middle">10<tspan font-size="14" dy="-7">4</tspan></text>
<text x="190.8" y="394" font-size="20" text-anchor="middle">10<tspan font-size="14" dy="-7">6</tspan></text>
<text x="228.8" y="394" font-size="20" text-anchor="middle">10<tspan font-size="14" dy="-7">8</tspan></text>
<text x="266.7" y="394" font-size="20" text-anchor="middle">10<tspan font-size="14" dy="-7">10</tspan></text>
<text x="304.7" y="394" font-size="20" text-anchor="middle">10<tspan font-size="14" dy="-7">12</tspan></text>
<text x="342.7" y="394" font-size="20" text-anchor="middle">10<tspan font-size="14" dy="-7">14</tspan></text>
<text x="380.6" y="394" font-size="20" text-anchor="middle">10<tspan font-size="14" dy="-7">16</tspan></text>
<text x="418.6" y="394" font-size="20" text-anchor="middle">10<tspan font-size="14" dy="-7">18</tspan></text>
<text x="456.6" y="394" font-size="20" text-anchor="middle">10<tspan font-size="14" dy="-7">20</tspan></text>
<text x="494.5" y="394" font-size="20" text-anchor="middle">10<tspan font-size="14" dy="-7">22</tspan></text>
<text x="532.5" y="394" font-size="20" text-anchor="middle">10<tspan font-size="14" dy="-7">24</tspan></text>
<text x="570.5" y="394" font-size="20" text-anchor="middle">10<tspan font-size="14" dy="-7">26</tspan></text>
<text x="608.4" y="394" font-size="20" text-anchor="middle">10<tspan font-size="14" dy="-7">28</tspan></text>
<text x="646.4" y="394" font-size="20" text-anchor="middle">10<tspan font-size="14" dy="-7">30</tspan></text>
<text x="73.7" y="63.9" font-size="20" text-anchor="end">10<tspan font-size="14" dy="-7">4</tspan></text>
<text x="74.4" y="138.0" font-size="20" text-anchor="end">1</text>
<text x="73.7" y="212.1" font-size="20" text-anchor="end">10<tspan font-size="14" dy="-7">−4</tspan></text>
<text x="73.7" y="286.2" font-size="20" text-anchor="end">10<tspan font-size="14" dy="-7">−8</tspan></text>
<text x="73.7" y="360.3" font-size="20" text-anchor="end">10<tspan font-size="14" dy="-7">−12</tspan></text>
<line x1="554.6" y1="41.9" x2="580.6" y2="41.9" stroke="#4d4d4d" stroke-width="1.15"/>
<line x1="554.6" y1="73.9" x2="580.6" y2="73.9" stroke="#4d4d4d" stroke-width="1.15" stroke-dasharray="3.6 1.9"/>
<text x="589" y="44.7" font-size="15.5">Lin</text>
<text x="589" y="76.7" font-size="15.5">Quad</text>
<text transform="translate(324.1,422.7) scale(1.1,1)" font-size="20" font-style="italic">ρ</text>
<text x="334.1" y="424.6" font-size="14">DM</text>
<line x1="358.4" y1="426.1" x2="364.8" y2="410.3" stroke="#000" stroke-width="1.1"/>
<text transform="translate(365.4,422.7) scale(1.1,1)" font-size="20" font-style="italic">ρ</text>
<text x="376" y="428.8" font-size="14">DM</text>
<circle cx="380.2" cy="412.5" r="3.9" fill="none" stroke="#000" stroke-width="0.8"/><circle cx="380.2" cy="412.5" r="0.9" fill="#000"/>
<g transform="translate(19,238) rotate(-90)">
<text x="0" y="0" font-size="20" font-style="italic">d</text>
<text transform="translate(11.0,-9.3) scale(0.965,1)" font-size="14">DDM</text>
<text x="9.5" y="4.7" font-size="14" font-style="italic">g</text>
<line x1="45.9" y1="1.4" x2="50.65" y2="-13.3" stroke="#000" stroke-width="1.15"/>
<text x="52.4" y="0" font-size="20" font-style="italic">d</text>
<text x="63.1" y="-9.3" font-size="14">EP</text>
<text x="61.75" y="4.7" font-size="14" font-style="italic">g</text>
</g>
</svg></body></html>
